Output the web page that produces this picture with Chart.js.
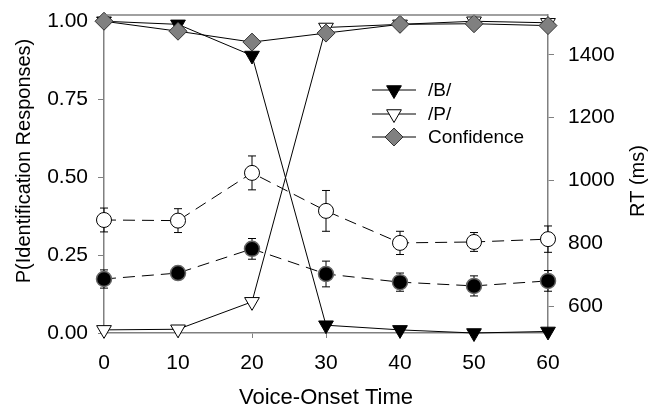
<!DOCTYPE html>
<html>
<head>
<meta charset="utf-8">
<script src="https://cdn.jsdelivr.net/npm/chart.js@4/dist/chart.umd.min.js"></script>
<style>
  html, body { margin: 0; padding: 0; background: #fff; }
  #wrap { width: 658px; height: 406px; position: relative; }
</style>
</head>
<body>
<div id="wrap"><canvas id="chart"></canvas></div>
<script>
// Voice-onset time steps (x axis)
const vot = [0, 10, 20, 30, 40, 50, 60];

// Identification proportions (left axis)
const bResp = [1.00, 0.99, 0.89, 0.025, 0.01, 0.00, 0.005];
const pResp = [0.01, 0.012, 0.10, 0.98, 0.99, 1.00, 0.995];
const confidence = [1.00, 0.968, 0.933, 0.962, 0.99, 0.992, 0.986];

// Reaction times (right axis) with error bars
const rtOpen = [874, 872, 1024, 903, 801, 804, 813];
const rtOpenErr = [38, 38, 54, 65, 37, 30, 42];
const rtFilled = [686, 705, 782, 702, 676, 664, 680];
const rtFilledErr = [29, 19, 33, 41, 29, 32, 33];

// Tick labels
const leftTicks = [0, 0.25, 0.5, 0.75, 1.0];
const rightTicks = [600, 800, 1000, 1200, 1400];

const FONT = 'Arial, "Liberation Sans", sans-serif';
const AXIS_GRAY = '#808080';

const toXY = (ys) => ys.map((y, i) => ({ x: vot[i], y: y }));

// no extra room for half tick labels, the plot box is fixed below
const noPad = (s) => {
    s.paddingTop = 0;
    s.paddingBottom = 0;
    s.paddingLeft = 0;
    s.paddingRight = 0;
};

/**
 * Draws vertical error bars for datasets that carry an `errors` array
 */
const errorBarPlugin = {
    id: 'errorBars',
    beforeDatasetsDraw(chart) {
        const ctx = chart.ctx;
        ctx.save();
        ctx.strokeStyle = '#000';
        ctx.lineWidth = 1;
        chart.data.datasets.forEach((ds) => {
            if (!ds.errors) return;
            const xs = chart.scales.x;
            const ys = chart.scales[ds.yAxisID];
            ds.data.forEach((p, i) => {
                const x = xs.getPixelForValue(p.x);
                const top = ys.getPixelForValue(p.y + ds.errors[i]);
                const bot = ys.getPixelForValue(p.y - ds.errors[i]);
                ctx.beginPath();
                ctx.moveTo(x, top);
                ctx.lineTo(x, bot);
                ctx.moveTo(x - 4, top);
                ctx.lineTo(x + 4, top);
                ctx.moveTo(x - 4, bot);
                ctx.lineTo(x + 4, bot);
                ctx.stroke();
            });
        });
        ctx.restore();
    }
};

/**
 * Top frame line, vertical axis titles and the in-plot legend
 */
const framePlugin = {
    id: 'frameAndLegend',
    afterDatasetsDraw(chart) {
        const ctx = chart.ctx;
        const area = chart.chartArea;
        ctx.save();
        ctx.strokeStyle = AXIS_GRAY;
        ctx.lineWidth = 1.5;
        ctx.beginPath();
        ctx.moveTo(area.left, area.top);
        ctx.lineTo(area.right, area.top);
        ctx.stroke();

        // both vertical titles read bottom to top
        ctx.fillStyle = '#000';
        ctx.font = '20px ' + FONT;
        ctx.textAlign = 'center';
        ctx.textBaseline = 'middle';
        [['P(Identification Responses)', 24, 161], ['RT (ms)', 638, 181]].forEach(([text, x, y]) => {
            ctx.save();
            ctx.translate(x, y);
            ctx.rotate(-Math.PI / 2);
            ctx.fillText(text, 0, 0);
            ctx.restore();
        });

        // legend entries: first three datasets
        const lx0 = 372, lx1 = 416, tx = 428;
        const rows = [90, 114, 137];
        chart.data.datasets.slice(0, 3).forEach((ds, i) => {
            const y = rows[i];
            ctx.strokeStyle = '#000';
            ctx.lineWidth = 1;
            ctx.setLineDash([]);
            ctx.beginPath();
            ctx.moveTo(lx0, y);
            ctx.lineTo(lx1, y);
            ctx.stroke();
            ctx.fillStyle = ds.pointBackgroundColor;
            ctx.strokeStyle = ds.pointBorderColor;
            ctx.lineWidth = ds.pointBorderWidth;
            Chart.helpers.drawPoint(ctx, {
                pointStyle: ds.pointStyle,
                radius: ds.pointRadius,
                rotation: ds.pointRotation || 0,
                borderWidth: ds.pointBorderWidth
            }, (lx0 + lx1) / 2, y);
            ctx.fillStyle = '#000';
            ctx.font = '19px ' + FONT;
            ctx.textBaseline = 'middle';
            ctx.textAlign = 'left';
            ctx.fillText(ds.label, tx, y + 1);
        });
        ctx.restore();
    }
};

const ctx = document.getElementById('chart').getContext('2d');

new Chart(ctx, {
    type: 'line',
    data: {
        datasets: [
            {
                label: '/B/',
                data: toXY(bResp),
                yAxisID: 'y',
                order: 1,
                borderColor: '#000',
                borderWidth: 1,
                pointStyle: 'triangle',
                pointRotation: 180,
                pointRadius: 8.5,
                pointBackgroundColor: '#000',
                pointBorderColor: '#000',
                pointBorderWidth: 1,
                clip: false
            },
            {
                label: '/P/',
                data: toXY(pResp),
                yAxisID: 'y',
                order: 2,
                borderColor: '#000',
                borderWidth: 1,
                pointStyle: 'triangle',
                pointRotation: 180,
                pointRadius: 8.5,
                pointBackgroundColor: '#fff',
                pointBorderColor: '#000',
                pointBorderWidth: 1,
                clip: false
            },
            {
                label: 'Confidence',
                data: toXY(confidence),
                yAxisID: 'y',
                order: 0,
                borderColor: '#000',
                borderWidth: 1,
                pointStyle: 'rectRot',
                pointRadius: 9,
                pointBackgroundColor: '#808080',
                pointBorderColor: '#333',
                pointBorderWidth: 1,
                clip: false
            },
            {
                label: 'RT open',
                data: toXY(rtOpen),
                errors: rtOpenErr,
                yAxisID: 'y2',
                order: 3,
                borderColor: '#000',
                borderWidth: 1,
                borderDash: [12, 7],
                pointStyle: 'circle',
                pointRadius: 7.5,
                pointBackgroundColor: '#fff',
                pointBorderColor: '#000',
                pointBorderWidth: 1,
                clip: false
            },
            {
                label: 'RT filled',
                data: toXY(rtFilled),
                errors: rtFilledErr,
                yAxisID: 'y2',
                order: 4,
                borderColor: '#000',
                borderWidth: 1,
                borderDash: [12, 7],
                pointStyle: 'circle',
                pointRadius: 7.5,
                pointBackgroundColor: '#000',
                pointBorderColor: '#666',
                pointBorderWidth: 1.5,
                clip: false
            }
        ]
    },
    options: {
        responsive: true,
        maintainAspectRatio: false,
        animation: false,
        layout: { padding: { top: 15, left: 0, right: 0, bottom: 0 } },
        plugins: {
            legend: { display: false },
            tooltip: { enabled: false }
        },
        scales: {
            x: {
                type: 'linear',
                min: 0,
                max: 60,
                afterFit: (s) => { s.height = 73; noPad(s); },
                ticks: {
                    stepSize: 10,
                    color: '#000',
                    padding: 13,
                    font: { family: FONT, size: 21 }
                },
                grid: { drawOnChartArea: false, color: AXIS_GRAY, tickLength: 5 },
                border: { color: AXIS_GRAY, width: 1.5 },
                title: {
                    display: true,
                    text: 'Voice-Onset Time',
                    color: '#000',
                    font: { family: FONT, size: 22, lineHeight: 1 },
                    padding: { top: 0, bottom: -3 }
                }
            },
            y: {
                position: 'left',
                min: 0,
                max: 1.02,
                afterFit: (s) => { s.width = 104; noPad(s); },
                afterBuildTicks: (s) => { s.ticks = leftTicks.map(v => ({ value: v })); },
                ticks: {
                    color: '#000',
                    padding: 10,
                    font: { family: FONT, size: 21 },
                    callback: (v) => v.toFixed(2)
                },
                grid: { drawOnChartArea: false, color: AXIS_GRAY, tickLength: 6 },
                border: { color: AXIS_GRAY, width: 1.5 }
            },
            y2: {
                position: 'right',
                min: 514,
                max: 1527,
                afterFit: (s) => { s.width = 110; noPad(s); },
                afterBuildTicks: (s) => { s.ticks = rightTicks.map(v => ({ value: v })); },
                ticks: {
                    color: '#000',
                    padding: 14,
                    font: { family: FONT, size: 21 },
                    callback: (v) => String(v)
                },
                grid: { drawOnChartArea: false, color: AXIS_GRAY, tickLength: 6 },
                border: { color: AXIS_GRAY, width: 1.5 }
            }
        }
    },
    plugins: [errorBarPlugin, framePlugin]
});
</script>
</body>
</html>
